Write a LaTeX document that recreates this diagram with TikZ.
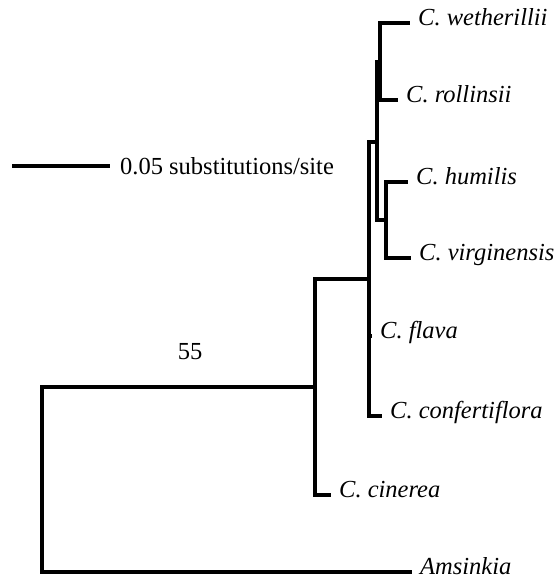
\documentclass[tikz,border=0pt]{standalone}
\usepackage{fontspec}
\setmainfont{Liberation Serif}
\usepackage{tikz}
\usetikzlibrary{positioning}

\begin{document}
\begin{tikzpicture}[x=1pt, y=-1pt,
    branch/.style={line width=4pt},
    taxon/.style={anchor=west, inner xsep=8pt, inner ysep=0pt,
                  text height=1.6ex, text depth=0.4ex,
                  font=\fontsize{24.5}{28}\selectfont\itshape},
    support/.style={font=\fontsize{24.5}{28}\selectfont}]
\useasboundingbox (0,0) rectangle (558,579);

% internal nodes
\coordinate (root) at (42,480);
\coordinate (n2) at (315,387);
\coordinate (n3) at (369,279);
\coordinate (na) at (377,142);
\coordinate (nw) at (380,62);
\coordinate (nh) at (386,220);

% tips
\node[taxon] (wet) at (410,23) {C. wetherillii};
\node[taxon] (rol) at (398,100) {C. rollinsii};
\node[taxon] (hum) at (408,182) {C. humilis};
\node[taxon] (vir) at (411,258) {C. virginensis};
\node[taxon] (fla) at (372,336) {C. flava};
\node[taxon] (con) at (382,416) {C. confertiflora};
\node[taxon] (cin) at (331,495) {C. cinerea};
\node[taxon] (ams) at (412,572) {Amsinkia};

\draw[branch] (root) |- (n2);
\draw[branch] (root) |- (ams.west);
\draw[branch] (n2) |- (n3);
\draw[branch] (n2) |- (cin.west);
\draw[branch] (n3) |- (na);
\draw[branch] (n3) |- (fla.west);
\draw[branch] (n3) |- (con.west);
\draw[branch] (na) |- (nw);
\draw[branch] (na) |- (nh);
\draw[branch] (nw) |- (wet.west);
\draw[branch] (nw) |- (rol.west);
\draw[branch] (nh) |- (hum.west);
\draw[branch] (nh) |- (vir.west);

\node[support] (bs) at (190,352) {55};

% scale bar
\coordinate (sb) at (12,166);
\node[support, anchor=west, inner xsep=10pt] (sbtext) at (110,166) {0.05 substitutions/site};
\draw[branch] (sb) -- (sbtext.west);
\end{tikzpicture}
\end{document}
